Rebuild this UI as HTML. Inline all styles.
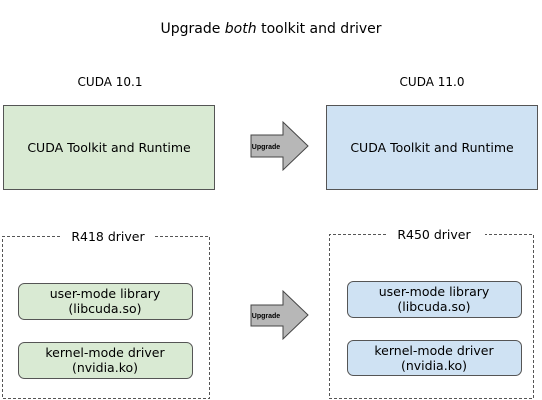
<!DOCTYPE html>
<html><head><meta charset="utf-8"><style>
html,body{margin:0;padding:0;background:#fff;}
svg{display:block;font-family:"DejaVu Sans","Liberation Sans",sans-serif;}
</style></head><body>
<svg width="542" height="400" viewBox="0 0 542 400" xmlns="http://www.w3.org/2000/svg">
<text x="271" y="33" font-size="14" text-anchor="middle" fill="#000">Upgrade <tspan font-style="italic">both</tspan> toolkit and driver</text>
<text x="110" y="86" font-size="12" text-anchor="middle">CUDA 10.1</text>
<text x="432" y="86" font-size="12" text-anchor="middle">CUDA 11.0</text>
<rect x="3.5" y="105.5" width="211" height="84" fill="#d9ead3" stroke="#555"/>
<text x="109" y="152" font-size="12.5" text-anchor="middle">CUDA Toolkit and Runtime</text>
<rect x="326.5" y="105.5" width="211" height="84" fill="#cfe2f3" stroke="#555"/>
<text x="432" y="152" font-size="12.5" text-anchor="middle">CUDA Toolkit and Runtime</text>
<polygon points="251,135 283,135 283,122 308,146 283,170 283,157 251,157" fill="#b7b7b7" stroke="#444"/>
<text x="266" y="149" font-size="7" font-weight="bold" font-family="Liberation Sans, sans-serif" text-anchor="middle">Upgrade</text>
<polygon points="251,305 283,305 283,291 308,315 283,339 283,326 251,326" fill="#b7b7b7" stroke="#444"/>
<text x="266" y="318" font-size="7" font-weight="bold" font-family="Liberation Sans, sans-serif" text-anchor="middle">Upgrade</text>
<path d="M60,236.5 H2.5 V398.5 H209.5 V236.5 H155" fill="none" stroke="#555" stroke-dasharray="3,2"/>
<text x="108" y="241" font-size="12.5" text-anchor="middle">R418 driver</text>
<rect x="18.5" y="283.5" width="174" height="36" rx="6" fill="#d9ead3" stroke="#555"/>
<text x="105" y="298" font-size="12.5" text-anchor="middle">user-mode library</text>
<text x="105" y="313" font-size="12.5" text-anchor="middle">(libcuda.so)</text>
<rect x="18.5" y="342.5" width="174" height="36" rx="6" fill="#d9ead3" stroke="#555"/>
<text x="105" y="357" font-size="12.5" text-anchor="middle">kernel-mode driver</text>
<text x="105" y="372" font-size="12.5" text-anchor="middle">(nvidia.ko)</text>
<path d="M386,234.5 H329.5 V398.5 H533.5 V234.5 H485" fill="none" stroke="#555" stroke-dasharray="3,2"/>
<text x="434" y="239" font-size="12.5" text-anchor="middle">R450 driver</text>
<rect x="347.5" y="281.5" width="174" height="36" rx="6" fill="#cfe2f3" stroke="#555"/>
<text x="434" y="296" font-size="12.5" text-anchor="middle">user-mode library</text>
<text x="434" y="311" font-size="12.5" text-anchor="middle">(libcuda.so)</text>
<rect x="347.5" y="340.5" width="174" height="35" rx="6" fill="#cfe2f3" stroke="#555"/>
<text x="434" y="355" font-size="12.5" text-anchor="middle">kernel-mode driver</text>
<text x="434" y="370" font-size="12.5" text-anchor="middle">(nvidia.ko)</text>
</svg>
</body></html>
